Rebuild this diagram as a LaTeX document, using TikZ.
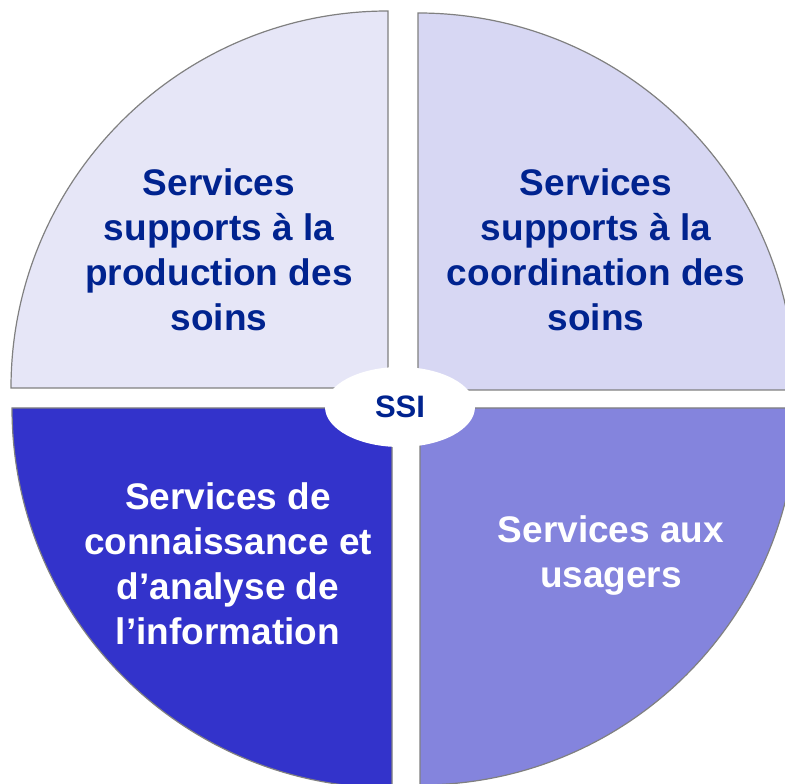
\documentclass[tikz,border=0pt]{standalone}
\usepackage{fontspec}
\setmainfont{Liberation Sans}
\usetikzlibrary{shapes.geometric}
\definecolor{qtl}{HTML}{E6E6F7}
\definecolor{qtr}{HTML}{D7D7F3}
\definecolor{qbl}{HTML}{3333CB}
\definecolor{qbr}{HTML}{8484DD}
\definecolor{edge}{HTML}{808080}
\definecolor{txtblue}{HTML}{00238F}
\tikzset{
  quad/.style={draw=edge, line width=1.2pt},
  lbl/.style={align=center, font=\fontsize{37}{45}\selectfont\bfseries, inner sep=0pt},
}
\begin{document}
\begin{tikzpicture}[x=1pt,y=1pt]
\useasboundingbox (0,0) rectangle (785,784);
\clip (0,0) rectangle (785,784);
\fill[white] (0,0) rectangle (785,784);
% quadrants
\path[quad, fill=qtl] (388,396) -- (11,396) arc[start angle=180, end angle=90, radius=377] -- cycle;
\path[quad, fill=qtr] (418,394) -- (418,771) arc[start angle=90, end angle=0, radius=377] -- cycle;
\path[quad, fill=qbl] (392,376) -- (392,-4) arc[start angle=270, end angle=180, radius=380] -- cycle;
\path[quad, fill=qbr] (420,376) -- (797,376) arc[start angle=0, end angle=-90, radius=377] -- cycle;
% centre
\node[ellipse, fill=white, minimum width=150pt, minimum height=80pt, inner sep=0pt,
      text=txtblue, font=\fontsize{31}{36}\selectfont\bfseries] (ssi) at (400,377) {SSI};
% labels
\node[lbl, text=txtblue] (prod) at (219,534) {Services\\supports à la\\production des\\soins};
\node[lbl, text=txtblue] (coord) at (596,534) {Services\\supports à la\\coordination des\\soins};
\node[lbl, text=white] (conn) at (228,220) {Services de\\connaissance et\\d’analyse de\\l’information};
\node[lbl, text=white] (usag) at (611,228) {Services aux\\usagers};
\end{tikzpicture}
\end{document}
